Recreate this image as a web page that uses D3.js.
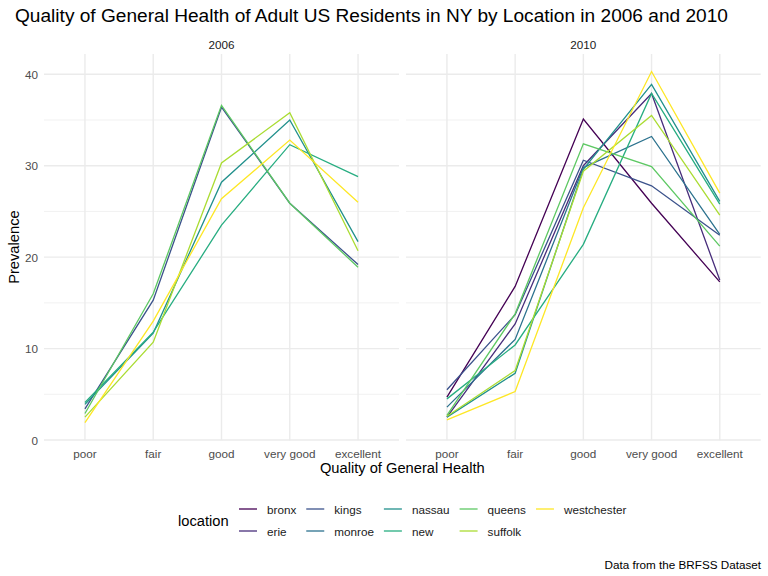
<!DOCTYPE html>
<html>
<head>
<meta charset="utf-8">
<script src="https://cdn.jsdelivr.net/npm/d3@7"></script>
<style>
  body { margin: 0; background: #fff; }
  svg { font-family: "Liberation Sans", Arial, Helvetica, sans-serif; }
</style>
</head>
<body>
<script>
'use strict';

const healthLevels = ['poor', 'fair', 'good', 'very good', 'excellent'];
const years = ['2006', '2010'];
const locations = ['bronx', 'erie', 'kings', 'monroe', 'nassau', 'new', 'queens', 'suffolk', 'westchester'];
const palette = ['#440154', '#472D7B', '#3B528B', '#2C728E', '#21908C', '#27AD81', '#5DC863', '#AADC32', '#FDE725'];
const yTicks = [0, 10, 20, 30, 40];

// prevalence by location, in healthLevels order
const prev2006 = {
  kings:       [3.4, 15.3, 36.4, 25.9, 19.2],
  nassau:      [3.9, 11.7, 28.2, 35.0, 21.7],
  new:         [4.1, 11.8, 23.5, 32.3, 28.8],
  queens:      [2.9, 16.0, 36.6, 25.9, 18.9],
  suffolk:     [2.5, 10.7, 30.3, 35.8, 20.7],
  westchester: [1.9, 13.0, 26.4, 32.8, 26.0]
};
const prev2010 = {
  bronx:       [4.7, 16.8, 35.1, 25.9, 17.3],
  erie:        [2.5, 12.7, 30.0, 37.9, 17.5],
  kings:       [5.5, 13.7, 30.6, 27.8, 22.4],
  monroe:      [3.6, 11.0, 29.8, 33.2, 22.5],
  nassau:      [2.5, 7.3, 29.6, 38.9, 26.1],
  new:         [4.5, 10.4, 21.4, 37.9, 25.8],
  queens:      [2.7, 13.8, 32.4, 29.9, 21.2],
  suffolk:     [2.6, 7.6, 29.4, 35.5, 24.6],
  westchester: [2.2, 5.3, 25.4, 40.3, 27.0]
};
const byYear = { '2006': prev2006, '2010': prev2010 };

const width = 768;
const height = 576;
const panelTop = 54;
const panelBottom = 440.2;
const panels = [[44, 399], [406, 760.7]];

const svg = d3.select('body').append('svg')
  .attr('width', width)
  .attr('height', height);

const color = d3.scaleOrdinal().domain(locations).range(palette);

const allVals = [];
years.forEach(function(yr) {
  Object.values(byYear[yr]).forEach(function(v) { allVals.push.apply(allVals, v); });
});
const vMin = d3.min(allVals);
const vMax = d3.max(allVals);
const pad = (vMax - vMin) * 0.05;
const y = d3.scaleLinear().domain([vMin - pad, vMax + pad]).range([panelBottom, panelTop]);

const line = d3.line()
  .x(function(d) { return d.x; })
  .y(function(d) { return y(d.v); });

years.forEach(function(yr, i) {
  const x = d3.scalePoint().domain(healthLevels).range(panels[i]).padding(0.6);
  const g = svg.append('g');

  // minor grid
  const minor = d3.range(5, 45, 10).filter(function(v) { return y(v) >= panelTop; });
  g.selectAll('.minor').data(minor).enter().append('line')
    .attr('x1', panels[i][0]).attr('x2', panels[i][1])
    .attr('y1', y).attr('y2', y)
    .attr('stroke', '#EBEBEB').attr('stroke-width', 0.7);

  // major grid
  g.selectAll('.hmajor').data(yTicks).enter().append('line')
    .attr('x1', panels[i][0]).attr('x2', panels[i][1])
    .attr('y1', y).attr('y2', y)
    .attr('stroke', '#EBEBEB').attr('stroke-width', 1.4);
  g.selectAll('.vmajor').data(healthLevels).enter().append('line')
    .attr('x1', x).attr('x2', x)
    .attr('y1', panelTop).attr('y2', panelBottom)
    .attr('stroke', '#EBEBEB').attr('stroke-width', 1.4);

  // strip label
  g.append('text')
    .attr('x', (panels[i][0] + panels[i][1]) / 2)
    .attr('y', 44)
    .attr('text-anchor', 'middle')
    .attr('dominant-baseline', 'central')
    .attr('font-size', 11.7)
    .attr('fill', '#1A1A1A')
    .text(yr);

  // x tick labels
  g.selectAll('.xlab').data(healthLevels).enter().append('text')
    .attr('x', x)
    .attr('y', 453)
    .attr('text-anchor', 'middle')
    .attr('dominant-baseline', 'central')
    .attr('font-size', 11.7)
    .attr('fill', '#4D4D4D')
    .text(function(d) { return d; });

  // lines
  const series = locations.filter(function(loc) { return byYear[yr][loc]; }).map(function(loc) {
    return {
      loc: loc,
      pts: byYear[yr][loc].map(function(v, j) { return { x: x(healthLevels[j]), v: v }; })
    };
  });
  g.selectAll('.series').data(series).enter().append('path')
    .attr('d', function(d) { return line(d.pts); })
    .attr('fill', 'none')
    .attr('stroke', function(d) { return color(d.loc); })
    .attr('stroke-width', 1.3);
});

// y tick labels
svg.selectAll('.ylab').data(yTicks).enter().append('text')
  .attr('x', 38)
  .attr('y', y)
  .attr('text-anchor', 'end')
  .attr('dominant-baseline', 'central')
  .attr('font-size', 11.7)
  .attr('fill', '#4D4D4D')
  .text(function(d) { return d; });

// axis titles
svg.append('text')
  .attr('x', (panels[0][0] + panels[1][1]) / 2)
  .attr('y', 468)
  .attr('text-anchor', 'middle')
  .attr('dominant-baseline', 'central')
  .attr('font-size', 14.7)
  .text('Quality of General Health');

svg.append('text')
  .attr('transform', 'translate(14,' + ((panelTop + panelBottom) / 2) + ') rotate(-90)')
  .attr('text-anchor', 'middle')
  .attr('dominant-baseline', 'central')
  .attr('font-size', 14.7)
  .text('Prevalence');

// title
svg.append('text')
  .attr('x', 15)
  .attr('y', 15)
  .attr('dominant-baseline', 'central')
  .attr('font-size', 19.1)
  .text('Quality of General Health of Adult US Residents in NY by Location in 2006 and 2010');

// legend
const legend = svg.append('g');
legend.append('text')
  .attr('x', 178)
  .attr('y', 521)
  .attr('dominant-baseline', 'central')
  .attr('font-size', 14.7)
  .text('location');

const rows = 2;
const rowY = [509, 531];
let colX = 239;
for (let c = 0; c < Math.ceil(locations.length / rows); c++) {
  const items = locations.slice(c * rows, c * rows + rows);
  let maxW = 0;
  items.forEach(function(loc, r) {
    legend.append('line')
      .attr('x1', colX).attr('x2', colX + 18)
      .attr('y1', rowY[r]).attr('y2', rowY[r])
      .attr('stroke', color(loc))
      .attr('stroke-width', 1.3);
    const t = legend.append('text')
      .attr('x', colX + 28)
      .attr('y', rowY[r])
      .attr('dominant-baseline', 'central')
      .attr('font-size', 11.7)
      .attr('fill', '#1A1A1A')
      .text(loc);
    maxW = Math.max(maxW, t.node().getComputedTextLength());
  });
  colX += 28 + maxW + 10;
}

// caption
svg.append('text')
  .attr('x', 761)
  .attr('y', 564)
  .attr('text-anchor', 'end')
  .attr('dominant-baseline', 'central')
  .attr('font-size', 11.7)
  .text('Data from the BRFSS Dataset');
</script>
</body>
</html>
